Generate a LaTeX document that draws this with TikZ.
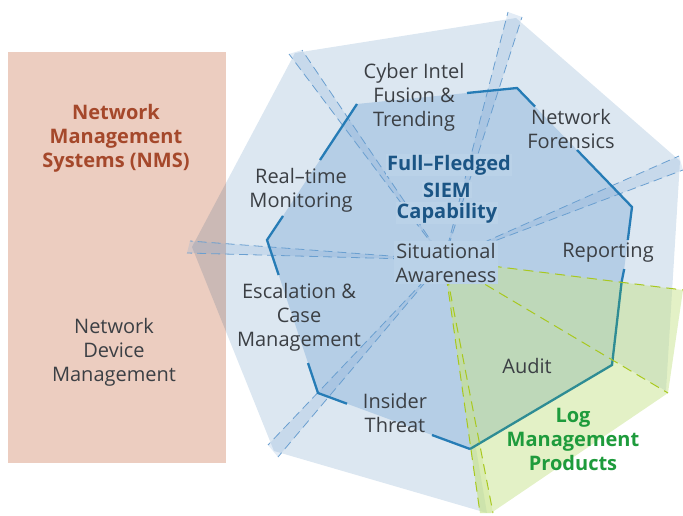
\documentclass[tikz,border=0pt]{standalone}
\usepackage{fontspec}
\setmainfont{Open Sans}
\usetikzlibrary{calc}
\definecolor{outerblue}{HTML}{DCE7F1}
\definecolor{innerblue}{HTML}{B5CEE6}
\definecolor{boxblue}{HTML}{BAD2E8}
\definecolor{bandfill}{HTML}{7FA9D6}
\definecolor{bandline}{HTML}{6A9FD0}
\definecolor{edgeblue}{HTML}{267CB6}
\definecolor{edgeteal}{HTML}{2E8C94}
\definecolor{greenfill}{HTML}{C8E38D}
\definecolor{greenline}{HTML}{A8C81E}
\definecolor{pinkbox}{HTML}{ECCDC0}
\definecolor{txt}{HTML}{3B3F44}
\definecolor{siemtxt}{HTML}{1B5585}
\definecolor{nmstxt}{HTML}{A5482B}
\definecolor{logtxt}{HTML}{1E9B3C}
\begin{document}
\begin{tikzpicture}[x=1pt,y=-1pt,
  lbl/.style={text=txt, align=center, font=\fontsize{20}{24}\selectfont, inner sep=0pt},
  siem/.style={text=siemtxt, font=\bfseries\fontsize{20}{24}\selectfont, fill=boxblue, inner sep=1pt},
  nmsl/.style={text=nmstxt, align=center, font=\bfseries\fontsize{20}{24}\selectfont, inner sep=0pt},
  logl/.style={text=logtxt, align=center, font=\bfseries\fontsize{20}{24}\selectfont, inner sep=0pt},
  bandf/.style={fill=bandfill, fill opacity=0.22},
  bandd/.style={draw=bandline, line width=0.8pt, dash pattern=on 9pt off 5pt},
  greenband/.style={fill=greenfill, fill opacity=0.35},
  greend/.style={draw=greenline, line width=1pt, dash pattern=on 10pt off 6pt},
  edgeline/.style={draw=edgeblue, line width=2.3pt},
  edgeline2/.style={draw=edgeteal, line width=2.3pt}]
\useasboundingbox (0,0) rectangle (683,516);
% coordinates
\coordinate (C) at (444,260);
\coordinate (O1) at (192,247);
\coordinate (O2) at (295,53);
\coordinate (O3) at (516,18);
\coordinate (O4) at (680,161);
\coordinate (O5) at (666,391);
\coordinate (O6) at (487,513);
\coordinate (O7) at (274,451);
% inner heptagon
\coordinate (H1) at (267,240);
\coordinate (H2) at (357,104);
\coordinate (H3) at (517,88);
\coordinate (H4) at (632,207);
\coordinate (H5) at (612,365);
\coordinate (H6) at (470,449);
\coordinate (H7) at (318,393);
% band ends
\coordinate (b1a) at (289,54); \coordinate (b1b) at (302,50);
\coordinate (b2a) at (508,12); \coordinate (b2b) at (522,17);
\coordinate (b3a) at (679,156); \coordinate (b3b) at (683,170);
\coordinate (b4a) at (190,241); \coordinate (b4b) at (187,253);
\coordinate (b5a) at (268,445); \coordinate (b5b) at (278,457);
\coordinate (b6a) at (480,513); \coordinate (b6b) at (493,513);
% green region
\coordinate (G1) at (683,290);
\coordinate (G2) at (668,393);
\coordinate (G3) at (491,513);
\coordinate (X1) at (621.6,282);

% pink NMS box
\fill[pinkbox] (8,52) rectangle (226,463);
% outer blue polygon
\fill[outerblue, blend mode=multiply] (O1) -- (O2) -- (O3) -- (O4) -- (O5) -- (C) -- (O6) -- (O7) -- cycle;
% inner heptagon
\fill[innerblue] (H1) -- (H2) -- (H3) -- (H4) -- (H5) -- (H6) -- (H7) -- cycle;
% blue bands
\foreach \n in {1,2,3,4,5}{
  \fill[bandf] (C) -- (b\n a) -- (b\n b) -- cycle;
  \draw[bandd] (C) -- (b\n a);
  \draw[bandd] (C) -- (b\n b);
}
% heptagon border segments
\draw[edgeline] (H2) -- (320,160);
\draw[edgeline] (283,216) -- (H1) -- (278.7,275);
\draw[edgeline] (308,363) -- (H7) -- (347,403.7);
\draw[edgeline] (432,435) -- (H6);
\draw[edgeline] (X1) -- (624.2,269);
\draw[edgeline] (627.8,240) -- (H4) -- (577,150);
\draw[edgeline] (535,106.6) -- (H3) -- (467,93);
% green region
\fill[greenfill, fill opacity=0.5] (C) -- (G1) -- (G2) -- (G3) -- (b6a) -- cycle;
\fill[greenband] (C) -- (b6a) -- (b6b) -- cycle;
\draw[edgeline2] (H6) -- (H5) -- (X1);
\draw[greend] (C) -- (G1);
\draw[greend] (C) -- (G2);
\draw[greend] (C) -- (b6a);
\draw[greend] (C) -- (b6b);

% labels
\node[lbl] (cyber) at (414,97) {Cyber Intel\\Fusion \&\\Trending};
\node[lbl] (forensics) at (571,129.5) {Network\\Forensics};
\node[siem] (siem1) at (449,165) {Full–Fledged};
\node[siem] (siem2) at (447,190) {SIEM};
\node[siem] (siem3) at (447,213) {Capability};
\node[lbl, fill=boxblue, inner sep=1.5pt] (sa) at (446,262.5) {Situational\\Awareness};
\node[lbl] (rt) at (301,190) {Real–time\\Monitoring};
\node[lbl] (rep) at (608,253) {Reporting};
\node[lbl] (esc) at (299,317.5) {Escalation \&\\Case\\Management};
\node[lbl] (ins) at (395,412.5) {Insider\\Threat};
\node[lbl] (audit) at (527,366) {Audit};
\node[logl] (log) at (573,439.5) {Log\\Management\\Products};
\node[nmsl] (nms) at (116,138) {Network\\Management\\Systems (NMS)};
\node[lbl] (ndm) at (114,352) {Network\\Device\\Management};
\end{tikzpicture}
\end{document}
